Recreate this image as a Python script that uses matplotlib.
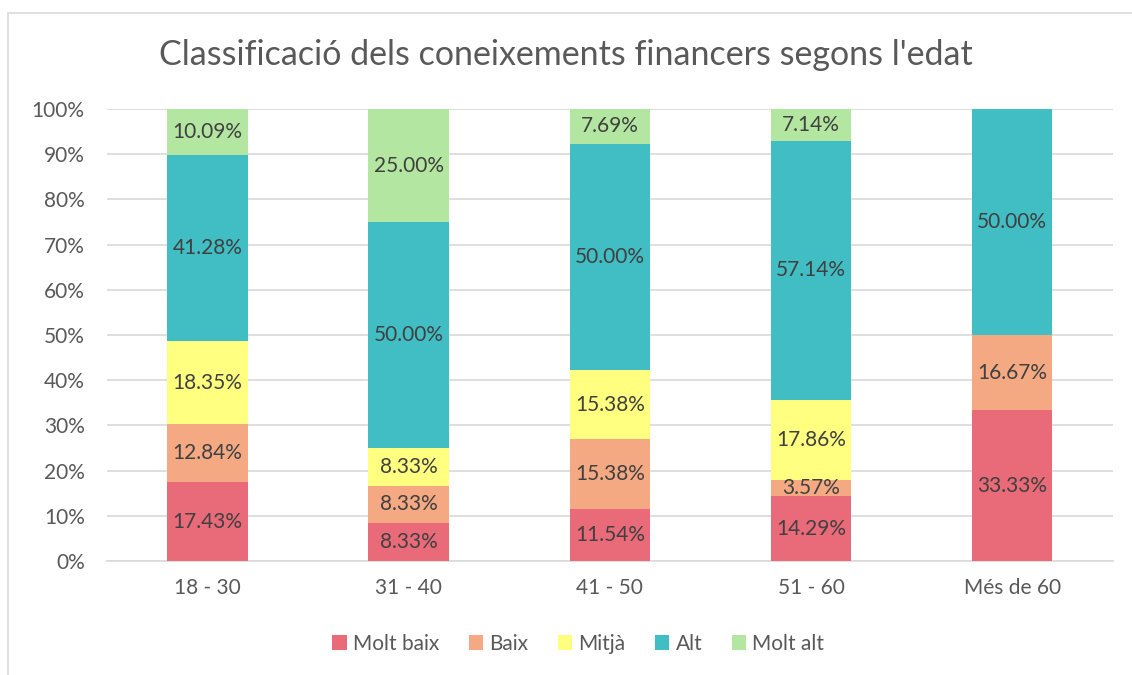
import numpy as np
import matplotlib.pyplot as plt
from matplotlib.patches import Rectangle
from matplotlib.ticker import FuncFormatter

plt.rcParams['font.family'] = ['Lato', 'DejaVu Sans']

# Data
categories = ["18 - 30", "31 - 40", "41 - 50", "51 - 60", "Més de 60"]
series_names = ["Molt baix", "Baix", "Mitjà", "Alt", "Molt alt"]
molt_baix = [17.43, 8.33, 11.54, 14.29, 33.33]
baix = [12.84, 8.33, 15.38, 3.57, 16.67]
mitja = [18.35, 8.33, 15.38, 17.86, 0.0]
alt = [41.28, 50.00, 50.00, 57.14, 50.00]
molt_alt = [10.09, 25.00, 7.69, 7.14, 0.0]

colors = ["#E96A78", "#F4A983", "#FFFF80", "#41BDC4", "#B3E6A0"]

fig = plt.figure(figsize=(11.32, 6.75), dpi=100)
ax = fig.add_axes([0.0945, 0.169, 0.8885, 0.6695])

# outer chart border
fig.patches.append(Rectangle((8 / 1132, -0.01), 1.2, 1 - 13 / 675 + 0.01,
                             transform=fig.transFigure, fill=False,
                             edgecolor="#D9D9D9", linewidth=1.2))

x = np.arange(len(categories))
bottom = np.zeros(len(categories))
for name, vals, c in zip(series_names,
                         [molt_baix, baix, mitja, alt, molt_alt], colors):
    vals = np.array(vals)
    ax.bar(x, vals, width=0.4, bottom=bottom, color=c, label=name, zorder=3)
    for xi, b, v in zip(x, bottom, vals):
        if v > 0:
            ax.text(xi, b + v / 2, f"{v:.2f}%", ha="center", va="center",
                    fontsize=15, color="#404040", zorder=4)
    bottom += vals

ax.set_xlim(-0.5, len(categories) - 0.5)
ax.set_ylim(0, 100)
ax.set_yticks(np.arange(0, 101, 10))
ax.yaxis.set_major_formatter(FuncFormatter(lambda v, p: f"{v:.0f}%"))
ax.set_xticks(x)
ax.set_xticklabels(categories)
ax.tick_params(axis="both", length=0, labelsize=15, labelcolor="#595959")
ax.tick_params(axis="y", pad=16)
ax.tick_params(axis="x", pad=12)
ax.grid(axis="y", color="#D9D9D9", linewidth=1.2, zorder=0)
for s in ["top", "right", "left"]:
    ax.spines[s].set_visible(False)
ax.spines["bottom"].set_color("#D9D9D9")
ax.spines["bottom"].set_linewidth(1.2)

fig.text(0.5, 1 - 55 / 675, "Classificació dels coneixements financers segons l'edat",
         ha="center", va="center", fontsize=24.5, color="#595959")

fig.legend(loc="center", bbox_to_anchor=(0.511, 1 - 644 / 675), ncol=5,
           frameon=False, fontsize=15, labelcolor="#595959",
           handlelength=0.7, handleheight=0.7, handletextpad=0.3,
           columnspacing=1.4)

fig.savefig("out.png", dpi=100)
